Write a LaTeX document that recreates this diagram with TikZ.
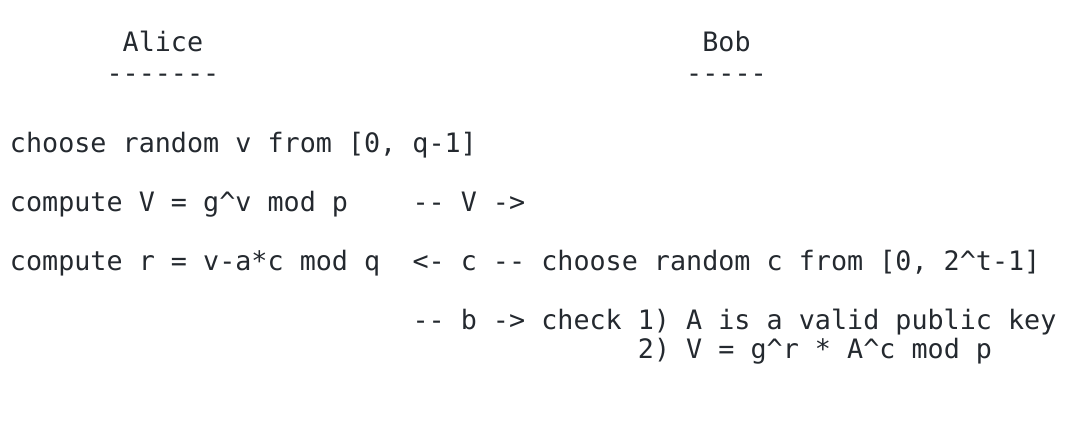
\documentclass[tikz,border=0pt]{standalone}
\usepackage{fontspec}
\setmonofont{DejaVu Sans Mono}
\definecolor{txt}{RGB}{36,41,47}
\newcommand{\cx}[1]{10+#1*16.1}
\newcommand{\crt}{\textasciicircum{}}
\begin{document}
\begin{tikzpicture}[x=0.5pt,y=-0.5pt,
  mono/.style={anchor=base west,inner sep=0pt,outer sep=0pt,text=txt,
    font=\ttfamily\fontsize{13.37}{16}\selectfont}]
\useasboundingbox (0,0) rectangle (1080,423);
\node[mono] (alice) at ({\cx{7}},51) {Alice};
\node[mono] (bob) at ({\cx{43}},51) {Bob};
\node[mono] (alicedash) at ({\cx{6}},82) {-{}-{}-{}-{}-{}-{}-};
\node[mono] (bobdash) at ({\cx{42}},82) {-{}-{}-{}-{}-};
\node[mono] (l1) at ({\cx{0}},152) {choose random v from [0, q-1]};
\node[mono] (l2a) at ({\cx{0}},211) {compute V = g\crt v mod p};
\node[mono] (l2b) at ({\cx{25}},211) {-{}- V -{}>};
\node[mono] (l3a) at ({\cx{0}},270) {compute r = v-a*c mod q};
\node[mono] (l3b) at ({\cx{25}},270) {<{}- c -{}-};
\node[mono] (l3c) at ({\cx{33}},270) {choose random c from [0, 2\crt t-1]};
\node[mono] (l4a) at ({\cx{25}},329) {-{}- b -{}>};
\node[mono] (l4b) at ({\cx{33}},329) {check 1) A is a valid public key};
\node[mono] (l5) at ({\cx{39}},358) {2) V = g\crt r * A\crt c mod p};
\end{tikzpicture}
\end{document}
